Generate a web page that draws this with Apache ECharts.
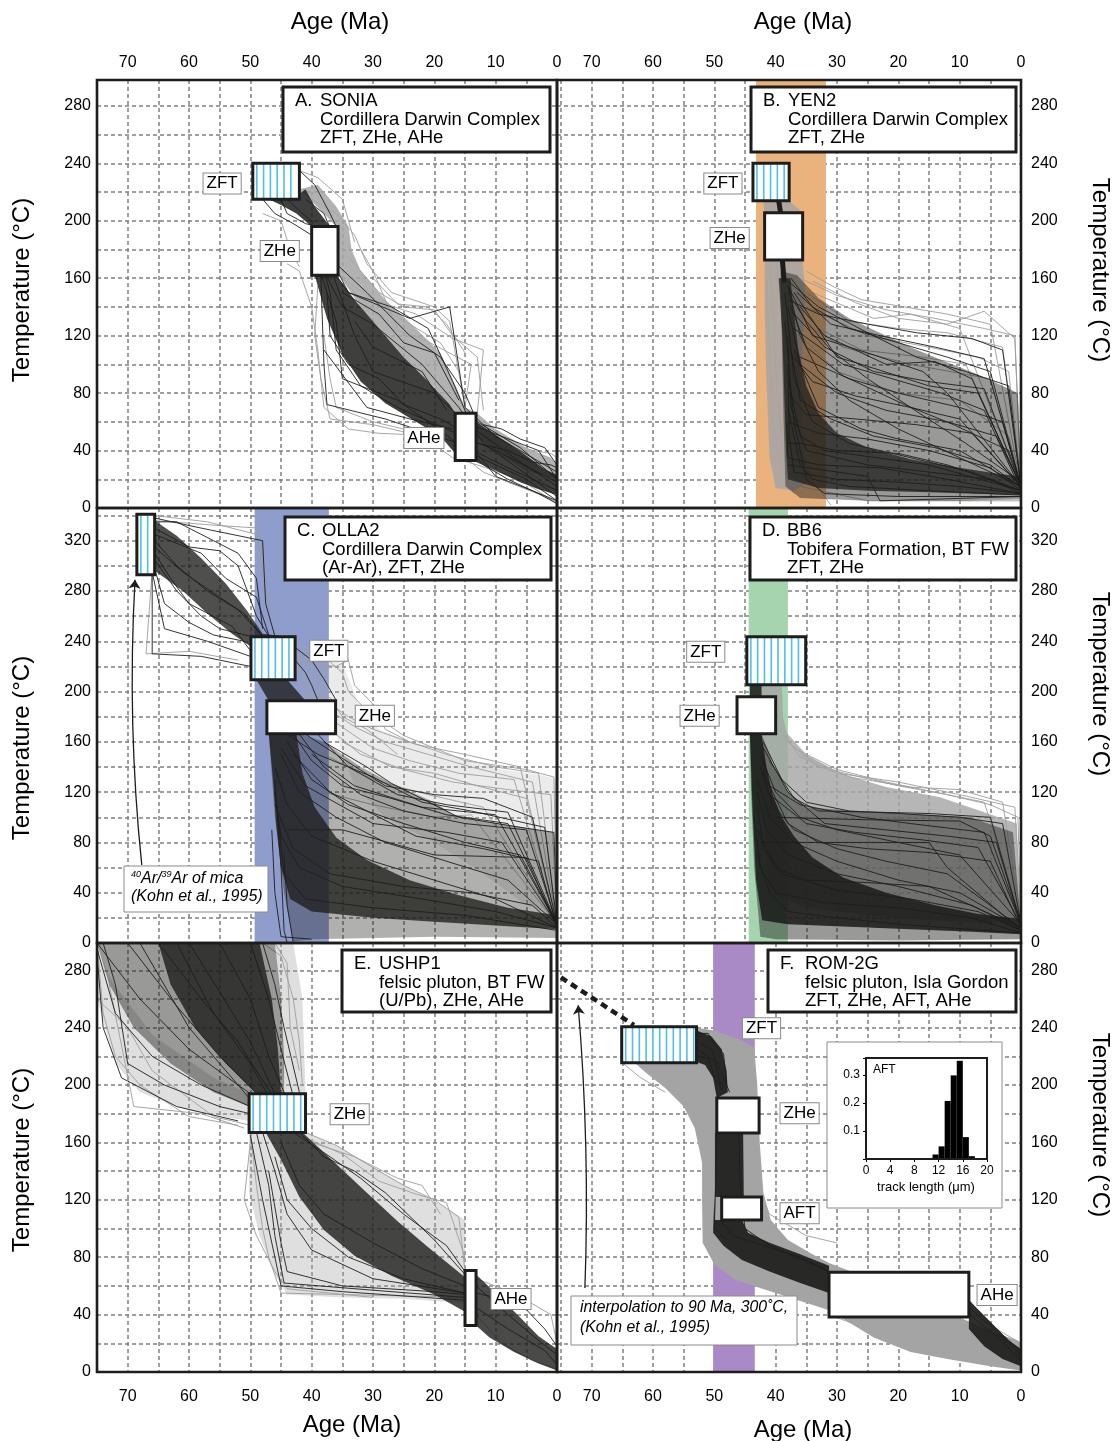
<!DOCTYPE html>
<html><head><meta charset="utf-8">
<script src="https://cdn.jsdelivr.net/npm/echarts@6/dist/echarts.min.js"></script>
<style>html,body{margin:0;padding:0;background:#fff}#c{width:1118px;height:1441px}</style>
</head><body><div id="c"></div>
<script>
// ================= DATA (age in Ma, temperature in °C) =================
// constraint boxes: [ageMin, ageMax, tempMin, tempMax, striped]
const A_boxes = [[42.0,49.6,215,240,1],[35.7,40.0,162,196,0],[13.2,16.6,33,66,0]];
const A_labels = [['ZFT',54.6,226],['ZHe',45.2,179],['AHe',21.7,48.8]];
const A_grayFill = [[[42,222],[39,225],[36,210],[34,196],[33.5,180],[32,165],[28,145],[23,125],[19,108],[16.5,85],[15,70],[13,66],[10,55],[5,42],[1,35],[0,30],[0,20],[5,26],[9,36],[13.2,50],[16.6,66],[20,84],[24,100],[28,120],[32,140],[35.5,162],[36,196],[38,205]]];
const A_blackFill = [
  [[47,215],[43,215],[41,222],[39.5,210],[37,196],[40,196],[42.5,205],[45,211]],
  [[36,162],[33,145],[29,125],[25,105],[21,88],[17.5,72],[16.6,66],[13.2,60],[9,48],[5.5,38],[2,27],[0,23],[0,9],[3,13],[6,18],[9.5,25],[13.2,32],[16.6,38],[19,50],[23,60],[28,73],[32,88],[35,107],[37.5,132],[39.5,162]]
];
const A_blackWide = [];
const A_blackPaths = [
  [[40,196],[38.5,160],[38,100],[37.5,72],[28,62],[16,45],[8,28],[0,12]],
  [[39,180],[37,150],[36,110],[32,85],[26,70],[18,55],[10,40],[0,18]],
  [[37,175],[34,150],[24,132],[17.5,140],[15,70],[10,50],[0,25]],
  [[36,170],[31,150],[24,120],[19,105],[15,80],[13,60],[6,42],[0,20]],
  [[38,165],[35,140],[30,128],[22,100],[16,70],[12,45],[0,8]],
  [[37,168],[33,120],[30,95],[20,80],[15,60],[7,35],[0,15]],
  [[36,162],[34,150],[27,140],[21,125],[17,88],[14,58],[3,40],[0,20]],
  [[39,170],[36,130],[35,90],[26,75],[21,60],[14,38],[5,20],[0,5]],
  [[41,215],[38,205],[36,185]],
  [[42,235],[39.5,225],[37,205],[36,196]],
  [[44,215],[41.5,205],[40,200]],
  [[13,45],[8,40],[4,32],[1,30],[0,28]],
  [[13,38],[10,22],[4,12],[0,5]],
  [[38,110],[31,70],[24,62],[17,55]],
  [[33,130],[30,112],[22,95],[18,68]],
  [[35,150],[29,135],[25,115],[20,108],[16,75]],
  [[37.5,150],[37,120],[34,100],[29,90],[25,72],[19,62],[14,50]],
  [[48,215],[46,205],[43,198],[40,190]],
  [[45,215],[44,205],[41,198],[39,196]],
  [[12,58],[9,55],[6,48],[2,42],[0,30]],
  [[16,48],[12,30],[8,20],[3,10],[0,3]]
];
const A_grayPaths = [
  [[42,235],[39,230],[35,215],[34,200],[33,185]],
  [[40,215],[36,205],[33,190],[31,170],[27,150],[20,140],[17.5,130],[15,70]],
  [[35,160],[30,145],[23,135],[17,118],[12,110],[13,66]],
  [[36,165],[33,150],[27,125],[22,118],[14,100],[15,70]],
  [[44,170],[42,165],[40,140],[39,110],[38,70],[34,55],[29,52],[18,50]],
  [[38,120],[37,90],[36,70],[30,60],[22,52]],
  [[13,50],[9,47],[4,40],[1,38],[0,35]],
  [[15,35],[12,25],[8,18],[2,8],[0,4]],
  [[17,35],[13,30],[6,20],[0,3]],
  [[29,140],[24,128],[19,115],[16,95]],
  [[48,205],[45,200],[43.5,180],[42,168]],
  [[32,180],[30,165],[28,145],[26,125]],
  [[34,175],[31,160],[29,150],[25,140],[20,138],[17,120],[13,105],[12,68]],
  [[39,155],[39.5,120],[38.5,90],[37,62],[30,58],[22,50],[17,35]],
  [[30,160],[26,142],[21,140],[18,128],[15,108]],
  [[12,50],[7,32],[3,20],[0,12]]
];

const B_band = [31.8,43.2];
const B_boxes = [[37.8,43.7,214,240,1],[35.6,41.8,172.7,205.5,0]];
const B_labels = [['ZFT',48.6,226],['ZHe',47.5,188]];
const B_thick = [[[39.5,214],[39.2,205.5]],[[38.9,172.7],[38.6,157]]];
const B_grayFill = [
  [[42,214],[37.8,214],[35.6,205.5],[41.8,205.5]],
  [[41.8,172.7],[35.6,172.7],[35.2,150],[35.5,120],[36,80],[35.5,40],[34,20],[37,12],[40,14],[41,35],[41.5,90],[41.8,140]]
];
const B_blackWide = [[[39.2,165],[36.5,162],[33,146],[28,132],[24,124],[18,112],[13,103],[7,93],[2,83],[0.5,80],[0,15],[0,6],[10,5],[25,5],[36,7],[38.4,15],[38.7,60],[39,120]]];
const B_blackFill = [[[39.5,160],[38.9,120],[38.6,80],[38.3,40],[38,20],[33,14],[25,12],[15,11],[7,10],[0,9],[0,22],[4,24],[10,28],[18,34],[25,42],[30,52],[33,66],[35,85],[36.3,110],[37,135],[37.6,160]]];
const B_blackPaths = [
  [[38,155],[36,120],[33,95],[28,75],[20,55],[10,35],[0,15]],
  [[38,150],[35,130],[31,110],[25,90],[18,70],[9,45],[0,18]],
  [[37.5,160],[34,140],[28,125],[20,115],[12,105],[5,95],[0,15]],
  [[38,145],[33,135],[25,128],[17,122],[8,118],[3,110],[0,15]],
  [[38,140],[36,100],[30,80],[22,68],[12,60],[4,50],[0,15]],
  [[38,130],[37,90],[34,60],[28,45],[18,35],[8,25],[0,12]],
  [[38,120],[37.5,70],[35,40],[25,30],[15,25],[5,20],[0,10]],
  [[38,100],[37.8,50],[37,25],[30,20],[20,18],[10,15],[0,10]],
  [[37,150],[30,105],[26,100],[15,85],[7,80],[0,15]],
  [[38,155],[34,120],[25,108],[16,95],[12,80],[0,15]],
  [[38.5,130],[37,60],[35,20],[32,10],[20,8],[0,8]],
  [[36,140],[32,120],[22,100],[14,102],[8,90],[0,15]],
  [[37,110],[33,70],[26,55],[20,48],[10,40],[0,15]],
  [[38,90],[36,50],[32,40],[15,30],[0,12]],
  [[38.2,60],[38,35],[33,30],[23,28],[12,20],[0,10]],
  [[38,30],[25,22],[23,5],[0,8]],
  [[36,105],[28,90],[20,80],[10,70],[3,60],[0,15]],
  [[37,125],[29,100],[21,90],[13,80],[6,68],[0,12]],
  [[38.5,150],[37.5,110],[36,75],[31,62],[24,50],[14,42],[5,30],[0,14]],
  [[37.5,140],[35,112],[29,92],[19,72],[11,58],[2,40],[0,16]],
  [[38,80],[35,65],[27,62],[17,58],[8,52],[0,15]],
  [[38,45],[36,45],[30,40],[20,38],[12,30],[0,12]],
  [[36.5,150],[31,128],[23,120],[14,112],[6,104],[0,15]],
  [[38,70],[36,30],[34,20],[28,15],[15,12],[0,9]],
  [[38,158],[33,140],[25,122],[17,105],[9,95],[2,85],[0,15]],
  [[37,135],[32,112],[24,95],[15,88],[6,83],[0,15]],
  [[38,110],[34,88],[27,78],[18,70],[10,62],[0,15]],
  [[38,60],[33,52],[25,48],[15,40],[5,28],[0,12]]
];
const B_grayPaths = [
  [[36,160],[30,148],[22,138],[14,132],[6,125],[1,120],[0,15]],
  [[35,150],[28,130],[20,125],[12,122],[3,112],[0,15]],
  [[35,140],[25,120],[15,112],[7,105],[2,95],[0,15]],
  [[34,150],[24,132],[18,135],[10,125],[0,15]],
  [[36,130],[29,112],[18,100],[5,90],[0,15]],
  [[36,120],[30,95],[20,80],[10,75],[2,50],[0,15]],
  [[40,170],[38,120],[37,50],[35,25],[31,2]],
  [[41,170],[40,100],[39,40],[36,15],[25,5],[0,5]],
  [[33,125],[26,110],[16,105],[9,100],[0,15]],
  [[35,165],[31,155],[26,145],[19,140],[12,135],[5,128],[0,15]],
  [[41.5,160],[41,110],[40.5,60],[39,30],[37,10]],
  [[34,158],[27,143],[20,132],[12,128],[6,137],[1,118],[0,15]]
];

const C_band = [37.2,49.3];
const C_boxes = [[65.6,68.5,293,341,1],[42.7,49.9,209.4,243.6,1],[36.1,47.3,166.4,192.6,0]];
const C_labels = [['ZFT',37.2,232.4],['ZHe',29.7,180.7]];
const C_grayFill = [[[42.7,240],[38,230],[35,222],[33.5,205],[32,185],[29,170],[24,160],[17,148],[9,138],[2,133],[0,130],[0,20],[5,30],[12,55],[20,80],[28,100],[33,125],[36.1,166.4],[36.1,192.6],[41,192.6],[42.7,209.4]]];
const C_blackWide = [[[42,166.4],[38,160],[32,140],[27,127],[20,112],[16.3,100],[8,94],[0.6,88],[0,15],[0,4],[20,5],[40,3],[43,1],[44.5,40],[46,100],[47,166.4]]];
const C_blackFill = [
  [[65.6,336],[62,324],[58,306],[54,286],[50.5,264],[48,246],[44,243.6],[47,236],[50,236],[53,246],[57,262],[61,280],[65.6,296]],
  [[49,209.4],[44,209.4],[41,192.6],[47,192.6]],
  [[47,166.4],[46.3,130],[45.8,95],[45,60],[43.5,35],[40,25],[30,20],[20,17],[10,14],[0,11],[0,22],[8,28],[16,38],[24,50],[31,66],[36,84],[39.5,108],[41.5,135],[42.5,166.4]]
];
const C_blackPaths = [
  [[65.6,338],[58,330],[50,322],[48,320],[47.5,270],[46,244]],
  [[65.6,330],[60,315],[55,312],[52,300],[49,260],[47,244]],
  [[65.6,320],[62,300],[57,280],[52,265],[48,244]],
  [[65.6,305],[62,280],[58,260],[55,250],[50,244]],
  [[65.6,298],[64,270],[60,255],[56,245],[51,240]],
  [[66,293],[66,230],[58,228],[50,220]],
  [[66,295],[64,250],[57,240],[50,228]],
  [[65.6,315],[61,295],[55,275],[51,262],[48,244]],
  [[65.6,325],[58,310],[54,290],[49,275],[47,245]],
  [[65.6,335],[62,335],[56,320],[52,310],[49,290],[48,250]],
  [[65.6,310],[63,290],[60,270],[53,252],[49.9,232]],
  [[42.7,235],[40,225],[38,210],[36,193]],
  [[42.7,225],[41,215],[40,205],[39,193]],
  [[42,166],[38,140],[32,118],[25,105],[15,95],[5,90],[0,15]],
  [[43,166],[40,145],[35,125],[27,115],[18,102],[8,95],[0,15]],
  [[44,160],[40,130],[34,110],[25,95],[15,80],[6,70],[0,15]],
  [[45,150],[42,120],[36,100],[28,80],[18,65],[8,50],[0,15]],
  [[46,140],[44,110],[40,85],[30,65],[20,50],[10,35],[0,12]],
  [[46,120],[45,85],[42,60],[35,45],[22,35],[10,25],[0,12]],
  [[45.5,100],[44.5,55],[41,35],[30,28],[15,22],[0,10]],
  [[44.5,70],[44,30],[43,0]],
  [[46,130],[45,60],[44.5,10],[44,0]],
  [[41,166],[36,150],[28,125],[20,118],[12,115],[4,100],[0,15]],
  [[44,166],[39,150],[30,132],[22,112],[14,105],[2,92],[0,15]],
  [[45,155],[41,125],[30,95],[18,88],[9,80],[0,15]],
  [[46,110],[43,75],[37,55],[25,45],[14,40],[4,30],[0,12]],
  [[43,150],[37,120],[29,100],[23,85],[12,75],[3,65],[0,12]],
  [[44,90],[35,90],[20,70],[5,68],[0,12]],
  [[40,150],[33,125],[22,108],[10,102],[0,15]],
  [[38,160],[31,140],[27,127],[16,100],[6,92],[0.5,88],[0,15]],
  [[46.5,90],[46,40],[45,5],[40,3]],
  [[39,166],[34,140],[26,118],[18,110],[8,104],[0,15]]
];
const C_grayPaths = [
  [[42.7,225],[40,222],[36,220],[34,225],[33,205],[30,190],[28,170],[24,160],[18,150],[10,140],[3,135],[0,15]],
  [[42.7,232],[38,228],[35,215],[34,200],[31,185],[25,165],[15,145],[5,138],[0.5,132],[0,15]],
  [[40,193],[37,190],[34,180],[30,170],[23,158],[15,150],[6,140],[0,15]],
  [[36,166],[32,150],[25,138],[17,128],[8,122],[1,118],[0,15]],
  [[36,175],[30,155],[24,145],[16,135],[7,130],[0,15]],
  [[35,160],[27,140],[20,135],[13,125],[5,115],[0,15]],
  [[38,150],[30,130],[21,118],[12,108],[0,15]],
  [[38,120],[30,110],[20,100],[14,102],[0,15]],
  [[40,200],[37,195],[35,180],[31,170],[26,150]],
  [[65.6,336],[55,332],[48.5,330],[48,290],[46,244]],
  [[66,296],[67,230],[60,232],[52,225]],
  [[65.6,340],[57,335],[49,325],[48,300]],
  [[37,185],[33,172],[28,160],[21,150],[14,140],[4,128],[0,15]]
];
const C_arrow = [[67.7,62],[68.8,289]];

const D_band = [38.0,44.4];
const D_boxes = [[35.1,44.7,205.4,243.6,1],[40.0,46.3,166.4,195.8,0]];
const D_labels = [['ZFT',51.4,231.6],['ZHe',52.4,180.7]];
const D_grayFill = [[[42.3,205.4],[39,205.4],[38.8,180],[38.2,167],[35,150],[29.5,135],[22,124],[13.2,116],[6,104],[0.7,95],[0,20],[6,16],[15,18],[25,22],[35,28],[41,40],[42,100],[42.3,166]]];
const D_blackWide = [[[42.3,166],[41,150],[40.4,140],[38,120],[34.9,108],[25,104],[15,102],[8.3,100],[1.3,88],[0,15],[0,3],[20,2],[40,3],[42.5,5],[43.5,60],[44,120],[44.2,166]]];
const D_blackFill = [[[44.2,205.4],[42.3,205.4],[42.3,166.4],[41.5,140],[40.5,118],[39,100],[37,85],[34,68],[29,52],[22,40],[14,30],[7,23],[0,19],[0,7],[8,9],[18,11],[28,13],[38,15],[42.2,18],[43.2,50],[43.8,110],[44.2,166.4]]];
const D_blackPaths = [
  [[42,160],[39,130],[35,112],[28,105],[20,103],[10,100],[3,95],[0,15]],
  [[42.5,150],[40,120],[36,100],[30,90],[20,80],[10,70],[0,15]],
  [[42.5,140],[40.5,110],[37,90],[30,75],[22,65],[12,55],[0,12]],
  [[43,130],[41,100],[37,80],[30,65],[20,50],[10,40],[0,12]],
  [[43,120],[41.5,90],[38,70],[30,55],[20,45],[8,30],[0,10]],
  [[43,110],[42,75],[39,55],[30,42],[18,35],[7,25],[0,10]],
  [[43.5,100],[42.5,60],[40,40],[32,32],[20,28],[8,20],[0,8]],
  [[41,145],[37,115],[33,105],[23,104],[15,103],[5,100],[0,15]],
  [[42,155],[38,120],[32,95],[22,90],[12,85],[4,80],[0,15]],
  [[42,135],[38,95],[33,80],[25,75],[15,72],[5,65],[0,12]],
  [[43,90],[40,60],[35,50],[25,48],[15,45],[0,12]],
  [[42.5,80],[30,80],[15,80],[12,60],[0,10]],
  [[43,70],[41,40],[38,25],[30,20],[20,15],[0,8]],
  [[41,125],[36,110],[26,100],[18,95],[6,88],[0,15]],
  [[40,100],[25,98],[10,97],[5,85],[0,15]],
  [[41.5,120],[35,95],[27,88],[16,82],[7,76],[0,15]]
];
const D_grayPaths = [
  [[38,160],[33,140],[27,133],[20,125],[12,118],[5,110],[0.5,100],[0,20]],
  [[37,155],[30,138],[22,128],[14,120],[6,112],[0,20]],
  [[38.5,165],[36,148],[30,135],[20,128],[10,118],[1,108],[0,20]],
  [[36,150],[28,132],[18,124],[10,122],[3,112],[0,20]]
];

const E_boxes = [[41.0,50.2,167,194,1],[13.2,15.0,32.4,70.7,0]];
const E_labels = [['ZHe',33.8,179.7],['AHe',7.5,50.8]];
const E_grayFill = [
  [[75,299],[75,260],[72,215],[68,195],[60,182],[50.2,175],[50.2,194],[56,205],[66,235],[73,275]],
  [[46,299],[43,299],[41.5,260],[41,194],[44.5,194],[45,250]],
  [[41,167],[36,158],[30,143],[24,128],[19,117],[15,106],[15,70.7],[13.2,70.7],[13.2,32.4],[15,32.4],[15,48],[25,51],[35,52],[44,54],[46,68],[48.5,95],[50.2,125],[50.2,167]]
];
const E_blackWide = [[[75,299],[46,299],[45,260],[44.5,220],[44.5,194],[50.2,185],[56,195],[63,215],[69,240],[73,270]]];
const E_blackFill = [
  [[65,299],[48.5,299],[46.5,260],[45.5,225],[45,194],[49,194],[54,215],[59,240],[63,270]],
  [[41.5,167],[36,145],[31,125],[26,105],[21,87],[17,73],[15,66],[15,42],[20,54],[27,67],[33,81],[38,99],[42,122],[45,148],[47.5,167]],
  [[13.2,68],[10,55],[6,38],[3,25],[0,16],[0,1],[3,6],[7,14],[11,24],[13.2,32.4]]
];
const E_blackPaths = [
  [[75,299],[68,260],[60,225],[52,200],[47,185]],
  [[75,295],[72,250],[66,220],[58,200],[50,185]],
  [[70,299],[62,255],[55,220],[48,190]],
  [[65,299],[58,260],[52,230],[46,190]],
  [[60,299],[55,265],[50,230],[45,185]],
  [[55,299],[50,260],[47,220],[44,190]],
  [[50,299],[47,260],[45,225],[43,192]],
  [[48,299],[46,270],[44.5,240],[42,195]],
  [[74,299],[72,270],[70,215],[64,200],[55,185],[48,178]],
  [[75,290],[74,240],[71,205],[62,185],[52,175]],
  [[68,299],[60,240],[54,210],[50,190]],
  [[62,299],[56,250],[50,215],[47,192]],
  [[49,167],[47,130],[46,95],[44.5,62],[30,57],[15,52]],
  [[50,165],[48,120],[46,80],[45,60],[35,56],[15,50]],
  [[48,167],[46,140],[44,110],[40,85],[30,65],[15,55]],
  [[45,160],[42,130],[38,110],[30,90],[22,72],[15,60]],
  [[42,167],[38,150],[33,140],[28,125],[20,92],[15,68]],
  [[43,167],[37,150],[32,135],[25,110],[18,88],[15,70]],
  [[46,150],[44,120],[40,100],[34,80],[25,65],[15,55]],
  [[47,140],[45,90],[44,70],[35,60],[20,56],[15,54]],
  [[13.2,60],[8,40],[3,22],[0,12]],
  [[13.2,45],[8,30],[2,15],[0,5]],
  [[13.2,55],[6,48],[2,30],[0,18]]
];
const E_grayPaths = [
  [[75,299],[74,250],[72,220],[68,200],[60,178],[52,172]],
  [[73,270],[69,185],[58,180],[51,170]],
  [[48,299],[45,290],[43,260],[42,230],[41.5,200]],
  [[46,299],[44,285],[43.5,240],[42,210]],
  [[75,260],[70,240],[66,210],[56,178],[50,172]],
  [[41,167],[36,158],[31,145],[25,130],[20,120],[16,108],[15,70]],
  [[42,165],[35,152],[29,133],[23,124],[18,118],[15,80]],
  [[50,167],[49,130],[48,100],[47,80],[45,55],[35,54],[15,52]],
  [[50,160],[51,120],[49,95],[46,70],[44,58],[30,52]],
  [[40,160],[33,150],[26,135],[22,130],[19,110]],
  [[13.2,40],[9,20],[4,8],[0,2]],
  [[13.2,65],[7,55],[1,40],[0,20]]
];

const F_band = [43.4,50.2];
const F_boxes = [[52.9,65.1,215.5,240.6,1],[42.7,49.6,166.5,191,0],[42.3,48.8,106,122,0],[8.5,31.3,38.3,69.6,0]];
const F_labels = [['ZFT',42.3,239.6],['ZHe',36.1,180.4],['AFT',36.1,110.7],['AHe',3.9,53.6]];
const F_dashed = [[[75,275],[63.1,241.7]]];
const F_arrow = [[71.1,58.5],[72.2,255.6]];
const F_grayFill = [[[63,215.5],[52.9,215.5],[52.9,240],[50,238],[46,232],[43.5,226],[43,200],[42.6,160],[42,125],[40.8,106],[38,92],[34,82],[31.3,76],[24,64],[17.5,53],[10,38],[4,27],[0.5,22],[0,20],[0,1],[5,4],[12,9],[18,14],[24,24],[31.3,43],[40,55],[46.5,64],[50,75],[51.9,90],[52,120],[52,146],[53.2,170],[55,185],[58,198],[61,208]]];
const F_blackWide = [];
const F_blackFill = [
  [[52.9,238],[50.5,234],[48.8,225],[48,210],[47.8,195],[49.6,191],[50.2,205],[51.5,214],[52.9,216]],
  [[49.9,166.5],[45.3,166.5],[45.2,122],[49.9,122]],
  [[50,122],[49.9,106],[45.5,106],[44.5,97],[41,90],[36,82],[31.3,74],[31.3,55],[36,62],[41,70],[45.5,78],[48.5,88],[50.2,97]],
  [[8.5,50],[5,35],[2,22],[0,16],[0,4],[3,9],[6,18],[8.5,30]]
];
const F_blackPaths = [
  [[52.9,236],[51,236],[50,228],[48.5,222],[48,200]],
  [[52.9,230],[50.5,225],[49,210],[47.5,195]],
  [[52.9,225],[51,220],[50,205],[48.5,195]],
  [[52.9,220],[50,218],[49,200]],
  [[49.6,170],[49.8,130],[50,100],[48,92]],
  [[46,166],[45.8,130],[45,100],[41,88],[31.3,70]],
  [[49,106],[47,95],[42,88],[36,80],[31.3,70]],
  [[8.5,45],[5,32],[2,20],[0,12]],
  [[8.5,40],[4,25],[0,8]],
  [[8.5,50],[6,38],[2,22],[0,15]]
];
const F_grayPaths = [
  [[62,215],[60,205],[56,195],[54,185],[53,180]],
  [[65,215.5],[62,205],[58,195]],
  [[45,230],[44,215],[43.5,200],[43,160]],
  [[43,150],[42.5,125],[41,110],[35,95],[30,90]],
  [[31.3,40],[25,30],[18,18],[10,10],[0,2]],
  [[25,60],[15,50],[8,40],[0,20]]
];
// inset AFT track-length histogram (bin left edge, µm ; frequency)
const HIST_EDGES = [11,12,13,14,15,16,17];
const HIST_VALS = [0.016,0.045,0.207,0.298,0.35,0.078,0.01];

const TITLES = {
  A:['A.','SONIA','Cordillera Darwin Complex','ZFT, ZHe, AHe'],
  B:['B.','YEN2','Cordillera Darwin Complex','ZFT, ZHe'],
  C:['C.','OLLA2','Cordillera Darwin Complex','(Ar-Ar), ZFT, ZHe'],
  D:['D.','BB6','Tobifera Formation, BT FW','ZFT, ZHe'],
  E:['E.','USHP1','felsic pluton, BT FW','(U/Pb), ZHe, AHe'],
  F:['F.','ROM-2G','felsic pluton, Isla Gordon','ZFT, ZHe, AFT, AHe']
};

// ================= LAYOUT / STYLE =================
const FONT = '"Liberation Sans", Arial, Helvetica, sans-serif';
const BLACK = '#1d1d1b', GRAY = '#9c9c9c';
const LAYOUT = {
  A:{left:97,top:80,width:460,height:428,xmax:75,ymax:298,yPos:'left',xPos:'top',xLab:true},
  B:{left:557,top:80,width:464,height:428,xmax:75.65,ymax:298,yPos:'right',xPos:'top',xLab:true},
  C:{left:97,top:508,width:460,height:435,xmax:75,ymax:346,yPos:'left',xPos:'bottom',xLab:false},
  D:{left:557,top:508,width:464,height:435,xmax:75.65,ymax:346,yPos:'right',xPos:'bottom',xLab:false},
  E:{left:97,top:943,width:460,height:429,xmax:75,ymax:299,yPos:'left',xPos:'bottom',xLab:true},
  F:{left:557,top:943,width:464,height:429,xmax:75.65,ymax:299,yPos:'right',xPos:'bottom',xLab:true}
};
const TITLE_BOX = {
  A:[283,87,267,65], B:[751,87,265,65], C:[285,517,266,63],
  D:[750,517,266,63], E:[342,950,209,62], F:[768,950,248,62]
};
const BAND_COLORS = {B:'#eab27d', C:'#8f9dcd', D:'#a5d4ae', F:'#a98ac6'};

const PANELS = {
  A:{band:null,boxes:A_boxes,labels:A_labels,grayFill:A_grayFill,grayPaths:A_grayPaths,blackWide:A_blackWide,blackFill:A_blackFill,blackPaths:A_blackPaths},
  B:{band:B_band,boxes:B_boxes,labels:B_labels,grayFill:B_grayFill,grayPaths:B_grayPaths,blackWide:B_blackWide,blackFill:B_blackFill,blackPaths:B_blackPaths},
  C:{band:C_band,boxes:C_boxes,labels:C_labels,grayFill:C_grayFill,grayPaths:C_grayPaths,blackWide:C_blackWide,blackFill:C_blackFill,blackPaths:C_blackPaths},
  D:{band:D_band,boxes:D_boxes,labels:D_labels,grayFill:D_grayFill,grayPaths:D_grayPaths,blackWide:D_blackWide,blackFill:D_blackFill,blackPaths:D_blackPaths},
  E:{band:null,boxes:E_boxes,labels:E_labels,grayFill:E_grayFill,grayPaths:E_grayPaths,blackWide:E_blackWide,blackFill:E_blackFill,blackPaths:E_blackPaths},
  F:{band:F_band,boxes:F_boxes,labels:F_labels,grayFill:F_grayFill,grayPaths:F_grayPaths,blackWide:F_blackWide,blackFill:F_blackFill,blackPaths:F_blackPaths}
};
const STYLE = {
  A:{grayOp:0.85,wideOp:0.4,blackOp:0.85}, B:{grayOp:0.85,wideOp:0.45,blackOp:0.75}, C:{grayOp:0.22,wideOp:0.35,blackOp:0.78},
  D:{grayOp:0.8,wideOp:0.45,blackOp:0.88}, E:{grayOp:0.35,wideOp:0.45,blackOp:0.8}, F:{grayOp:1,wideOp:0.4,blackOp:0.92}
};

// ================= BUILD =================
const grids=[], xAxes=[], yAxes=[], series=[], graphics=[];
const base = {silent:true, animation:false};

function bandSeries(gi, band, color, ymax){
  return Object.assign({type:'custom', xAxisIndex:gi, yAxisIndex:gi, z:1, data:[[band[0],band[1],ymax]],
    renderItem:(p,api)=>{const a=api.coord([api.value(0),0]), b=api.coord([api.value(1),api.value(2)]);
      return {type:'rect', shape:{x:Math.min(a[0],b[0]),y:Math.min(a[1],b[1]),width:Math.abs(b[0]-a[0]),height:Math.abs(b[1]-a[1])}, style:{fill:color}};}}, base);
}
function polySeries(gi, polys, color, opacity, z){
  return Object.assign({type:'custom', xAxisIndex:gi, yAxisIndex:gi, z, data:polys.map((_,k)=>[k,0]),
    renderItem:(p,api)=>({type:'polygon', shape:{points:polys[api.value(0)].map(q=>api.coord(q))}, style:{fill:color, opacity}})}, base);
}
function pathSeries(gi, paths, color, width, opacity, z, type){
  return Object.assign({type:'lines', coordinateSystem:'cartesian2d', xAxisIndex:gi, yAxisIndex:gi, polyline:true, z,
    data:paths.map(p=>({coords:p})), lineStyle:{color, width, opacity, type:type||'solid'}}, base);
}
function boxSeries(gi, boxes){
  return Object.assign({type:'custom', xAxisIndex:gi, yAxisIndex:gi, z:20, data:boxes,
    renderItem:(p,api)=>{
      const a=api.coord([api.value(1),api.value(3)]), b=api.coord([api.value(0),api.value(2)]);
      const x=Math.min(a[0],b[0]), y=Math.min(a[1],b[1]), w=Math.abs(b[0]-a[0]), h=Math.abs(b[1]-a[1]);
      const ch=[{type:'rect',shape:{x,y,width:w,height:h},style:{fill:'#fff'}}];
      if (api.value(4)) for (let sx=x+4; sx<x+w-2; sx+=6.8) ch.push({type:'line',shape:{x1:sx,y1:y+1,x2:sx,y2:y+h-1},style:{stroke:'#4cbfee',lineWidth:1.6}});
      ch.push({type:'rect',shape:{x,y,width:w,height:h},style:{fill:'none',stroke:BLACK,lineWidth:3}});
      return {type:'group',children:ch};
    }}, base);
}
function labelSeries(gi, labels){
  return Object.assign({type:'custom', xAxisIndex:gi, yAxisIndex:gi, z:25, data:labels.map((l,k)=>[l[1],l[2],k]),
    renderItem:(p,api)=>{const c=api.coord([api.value(0),api.value(1)]);
      return {type:'text', x:c[0], y:c[1], style:{text:labels[api.value(2)][0], font:'17px '+FONT, fill:'#000', align:'center', verticalAlign:'middle',
        backgroundColor:'#fff', borderColor:'#8a8a8a', borderWidth:1, padding:[2,3,1,3]}};}}, base);
}
function arrowSeries(gi, seg, curv){
  return Object.assign({type:'lines', coordinateSystem:'cartesian2d', xAxisIndex:gi, yAxisIndex:gi, z:26,
    data:[{coords:seg}], symbol:['none','arrow'], symbolSize:9, lineStyle:{color:BLACK,width:1.3,opacity:1,curveness:curv}}, base);
}

const keys = ['A','B','C','D','E','F'];
keys.forEach((k,gi)=>{
  const L = LAYOUT[k], P = PANELS[k], S = STYLE[k];
  grids.push({left:L.left, top:L.top, width:L.width, height:L.height, show:false, containLabel:false, outerBoundsMode:'none'});
  xAxes.push({gridIndex:gi, type:'value', min:0, max:L.xmax, interval:5, inverse:true, position:L.xPos,
    axisLine:{show:false}, axisTick:{show:false},
    axisLabel:{show:L.xLab, margin:L.xPos==='top'?9:17, color:'#000', fontSize:16, fontFamily:FONT,
      formatter:v=>(Math.abs(v%10)<1e-6 && v<=70.01)?String(v):''},
    splitLine:{show:true, lineStyle:{color:'#808080', width:1.5, type:[4,3]}}});
  yAxes.push({gridIndex:gi, type:'value', min:0, max:L.ymax, interval:20, position:L.yPos,
    axisLine:{show:false}, axisTick:{show:false},
    axisLabel:{margin:L.yPos==='left'?6:10, color:'#000', fontSize:16, fontFamily:FONT,
      formatter:v=>(Math.abs(v%40)<1e-6 && v<=L.ymax-5)?String(v):''},
    splitLine:{show:true, lineStyle:{color:'#808080', width:1.5, type:[4,3]}}});
  if (P.band) series.push(bandSeries(gi, P.band, BAND_COLORS[k], L.ymax));
  series.push(pathSeries(gi, P.grayPaths, GRAY, 0.9, 1, 3));
  series.push(polySeries(gi, P.grayFill, '#a4a4a4', S.grayOp, 4));
  series.push(polySeries(gi, P.blackWide, BLACK, S.wideOp, 4));
  series.push(pathSeries(gi, P.blackPaths, BLACK, 0.9, 1, 5));
  series.push(polySeries(gi, P.blackFill, BLACK, S.blackOp, 6));
  series.push(boxSeries(gi, P.boxes));
  series.push(labelSeries(gi, P.labels));
  graphics.push({type:'rect', shape:{x:L.left,y:L.top,width:L.width,height:L.height}, style:{fill:'none',stroke:BLACK,lineWidth:2.6}, z:100, silent:true});
  const T = TITLE_BOX[k], tx = TITLES[k];
  graphics.push({type:'group', z:90, silent:true, children:[
    {type:'rect', shape:{x:T[0],y:T[1],width:T[2],height:T[3]}, style:{fill:'#fff',stroke:BLACK,lineWidth:3}, z:90},
    {type:'text', x:T[0]+12, y:T[1]+14, style:{text:tx[0],font:'18.5px '+FONT,fill:'#000',align:'left',verticalAlign:'middle'}, z:91},
    {type:'text', x:T[0]+37, y:T[1]+14, style:{text:tx[1],font:'18.5px '+FONT,fill:'#000',align:'left',verticalAlign:'middle'}, z:91},
    {type:'text', x:T[0]+37, y:T[1]+32.5, style:{text:tx[2],font:'18.5px '+FONT,fill:'#000',align:'left',verticalAlign:'middle'}, z:91},
    {type:'text', x:T[0]+37, y:T[1]+51, style:{text:tx[3],font:'18.5px '+FONT,fill:'#000',align:'left',verticalAlign:'middle'}, z:91}
  ]});
});
// extra marks
series.push(pathSeries(1, B_thick, BLACK, 5, 1, 7));
series.push(pathSeries(5, F_dashed, BLACK, 4.5, 1, 27, [7,5]));
series.push(arrowSeries(2, C_arrow, 0.04));
series.push(arrowSeries(5, F_arrow, -0.03));

// inset histogram (grid index 6)
grids.push({left:866, top:1058, width:121, height:101, show:false, containLabel:false, outerBoundsMode:'none'});
xAxes.push({gridIndex:6, type:'value', min:0, max:20, interval:4, z:86, axisLine:{show:false}, axisTick:{show:true,length:3,lineStyle:{color:'#000'}},
  axisLabel:{margin:6, fontSize:12, color:'#000', fontFamily:FONT}, splitLine:{show:false}});
yAxes.push({gridIndex:6, type:'value', min:0, max:0.36, interval:0.1, z:86, axisLine:{show:false}, axisTick:{show:true,length:3,lineStyle:{color:'#000'}},
  axisLabel:{margin:6, fontSize:12, color:'#000', fontFamily:FONT, formatter:v=>(v>0.05 && v<0.35)?v.toFixed(1):''}, splitLine:{show:false}});
series.push(Object.assign({type:'custom', xAxisIndex:6, yAxisIndex:6, z:85, data:HIST_EDGES.map((e,k)=>[e,HIST_VALS[k]]),
  renderItem:(p,api)=>{const a=api.coord([api.value(0),0]), b=api.coord([api.value(0)+1,api.value(1)]);
    return {type:'rect', shape:{x:Math.min(a[0],b[0]),y:Math.min(a[1],b[1]),width:Math.abs(b[0]-a[0]),height:Math.abs(b[1]-a[1])}, style:{fill:'#000'}};}}, base));
graphics.push({type:'rect', shape:{x:827,y:1042,width:175,height:166}, style:{fill:'#fff',stroke:'#8a8a8a',lineWidth:1}, z:80, silent:true});
graphics.push({type:'rect', shape:{x:866,y:1058,width:121,height:101}, style:{fill:'none',stroke:BLACK,lineWidth:2}, z:100, silent:true});
graphics.push({type:'text', x:873, y:1070, style:{text:'AFT',font:'12px '+FONT,fill:'#000',verticalAlign:'middle'}, z:95, silent:true});
graphics.push({type:'text', x:926, y:1187, style:{text:'track length (μm)',font:'13px '+FONT,fill:'#000',align:'center',verticalAlign:'middle'}, z:95, silent:true});

// annotation boxes
graphics.push({type:'rect', shape:{x:124,y:866,width:144,height:46}, style:{fill:'#fff',stroke:'#8a8a8a',lineWidth:1}, z:85, silent:true});
graphics.push({type:'text', x:131, y:879, z:86, silent:true, style:{text:'{s|40}{i|Ar/}{s|39}{i|Ar of mica}', verticalAlign:'middle', align:'left',
  rich:{i:{font:'italic 16px '+FONT, fill:'#000', lineHeight:18}, s:{font:'italic 9px '+FONT, fill:'#000', verticalAlign:'top', lineHeight:18}}}});
graphics.push({type:'text', x:131, y:897, z:86, silent:true, style:{text:'(Kohn et al., 1995)', font:'italic 16px '+FONT, fill:'#000', verticalAlign:'middle'}});
graphics.push({type:'rect', shape:{x:571,y:1296,width:226,height:49}, style:{fill:'#fff',stroke:'#8a8a8a',lineWidth:1}, z:85, silent:true});
graphics.push({type:'text', x:580, y:1308, z:86, silent:true, style:{text:'interpolation to 90 Ma, 300˚C,', font:'italic 15.8px '+FONT, fill:'#000', verticalAlign:'middle'}});
graphics.push({type:'text', x:580, y:1328, z:86, silent:true, style:{text:'(Kohn et al., 1995)', font:'italic 15.8px '+FONT, fill:'#000', verticalAlign:'middle'}});

// axis titles
[[340,22],[803,22],[352,1425],[803,1430]].forEach(p=>graphics.push({type:'text', x:p[0], y:p[1], z:95, silent:true,
  style:{text:'Age (Ma)', font:'24px '+FONT, fill:'#000', align:'center', verticalAlign:'middle'}}));
[[22,290],[22,748],[22,1160]].forEach(p=>graphics.push({type:'text', x:p[0], y:p[1], rotation:Math.PI/2, z:95, silent:true,
  style:{text:'Temperature (°C)', font:'24px '+FONT, fill:'#000', align:'center', verticalAlign:'middle'}}));
[[1100,270],[1100,684],[1100,1125]].forEach(p=>graphics.push({type:'text', x:p[0], y:p[1], rotation:-Math.PI/2, z:95, silent:true,
  style:{text:'Temperature (°C)', font:'24px '+FONT, fill:'#000', align:'center', verticalAlign:'middle'}}));

const chart = echarts.init(document.getElementById('c'), null, {renderer:'canvas'});
chart.setOption({backgroundColor:'#fff', animation:false, grid:grids, xAxis:xAxes, yAxis:yAxes, series, graphic:{elements:graphics}});
</script></body></html>
